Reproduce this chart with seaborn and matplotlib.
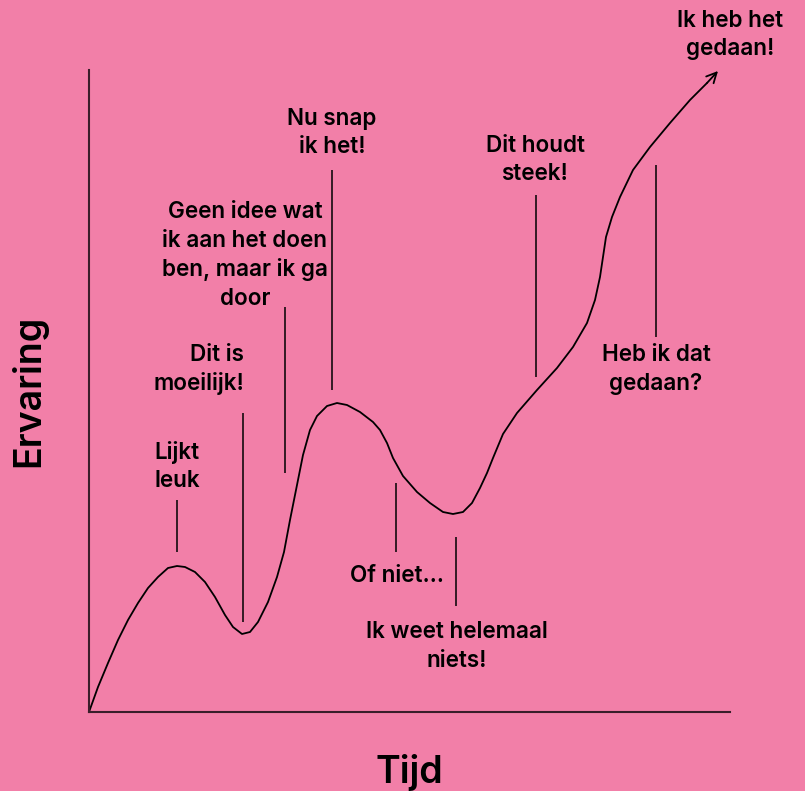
import matplotlib
matplotlib.use("Agg")
import matplotlib.pyplot as plt
import seaborn as sns
import pandas as pd

# ---- data ----
curve_time = [0, 9, 19, 29, 39, 49, 59, 69, 79, 88, 96, 106, 116, 126, 136, 144, 153, 161, 169,
              179, 188, 195, 201, 206, 214, 221, 228, 238, 248, 258, 271, 284, 291, 298, 304, 314,
              328, 341, 354, 364, 374, 383, 391, 398, 404, 414, 428, 448, 468, 484, 498, 506, 511,
              514, 517, 523, 531, 544, 561, 581, 601, 618, 629]
curve_exp = [0, 25, 49, 72, 92, 109, 124, 135, 144, 146, 145, 140, 130, 115, 97, 85, 78, 80, 90,
             110, 135, 160, 192, 217, 257, 282, 296, 306, 309, 307, 300, 290, 282, 269, 254, 236,
             220, 209, 200, 198, 200, 209, 224, 239, 254, 278, 299, 322, 344, 365, 389, 412, 435,
             455, 475, 495, 515, 542, 565, 589, 612, 629, 641]

labels = ["Ik heb het\ngedaan!", "Nu snap\nik het!", "Dit houdt\nsteek!",
          "Geen idee wat\nik aan het doen\nben, maar ik ga\ndoor", "Dit is\nmoeilijk!",
          "Lijkt\nleuk", "Of niet…", "Ik weet helemaal\nniets!", "Heb ik dat\ngedaan?"]
label_x = [641, 243, 446, 156, 155, 65, 308, 368, 567]
label_y = [677, 579, 552, 456.5, 342.5, 245.5, 136, 65.5, 342.5]
label_ha = ["center", "center", "center", "center", "right", "left", "center", "center", "center"]

pointer_x = [88, 154, 196, 243, 307, 367, 447, 567]
pointer_top = [212, 299, 405, 542, 229, 175, 517, 547]
pointer_bottom = [160, 90, 239, 322, 160, 106, 335, 375]

x_label = "Tijd"
y_label = "Ervaring"

# ---- style ----
BG = "#F27FA8"
sns.set_theme(style="white", rc={"axes.facecolor": BG, "figure.facecolor": BG})
plt.rcParams["font.family"] = ["Inter", "DejaVu Sans"]

W, H = 805, 791
fig = plt.figure(figsize=(W / 100, H / 100), dpi=100)
ax = fig.add_axes([89 / W, (H - 712) / H, (730 - 89) / W, (712 - 70) / H])
ax.set_xlim(0, 641)
ax.set_ylim(0, 642)

df = pd.DataFrame({"t": curve_time[:-1], "e": curve_exp[:-1]})
sns.lineplot(data=df, x="t", y="e", sort=False, color="black", lw=1.3, ax=ax, clip_on=False)
for ln in ax.lines:
    ln.set_solid_joinstyle("round")
ax.annotate("", xy=(curve_time[-1], curve_exp[-1]), xytext=(curve_time[-2], curve_exp[-2]),
            arrowprops=dict(arrowstyle="->", lw=1.3, color="black", mutation_scale=18,
                            shrinkA=0, shrinkB=0), annotation_clip=False)

ax.vlines(pointer_x, pointer_bottom, pointer_top, color="black", lw=1.1, clip_on=False)

for s, x, y, ha in zip(labels, label_x, label_y, label_ha):
    ax.text(x, y, s, ha=ha, va="center", fontsize=16.2, fontweight="semibold",
            linespacing=1.38, color="black", clip_on=False, multialignment=ha)

for side in ["top", "right"]:
    ax.spines[side].set_visible(False)
for side in ["left", "bottom"]:
    ax.spines[side].set_color("#3a1e2a")
    ax.spines[side].set_linewidth(1.5)
ax.set_xticks([])
ax.set_yticks([])
ax.set_xlabel(x_label, fontsize=27, fontweight="semibold", labelpad=30, color="black")
ax.set_ylabel(y_label, fontsize=27, fontweight="semibold", labelpad=30, color="black")

fig.savefig("out.png", dpi=100, facecolor=BG)
